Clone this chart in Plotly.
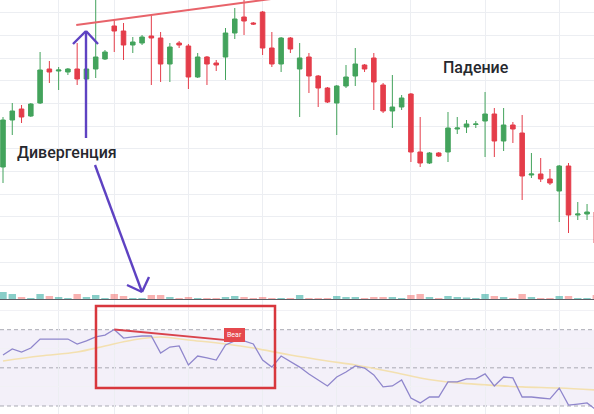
import plotly.graph_objects as go

W, H = 594, 414

# ---- price candles (index, open, high, low, close) ----
idx = list(range(65))
open_ = [133, 180, 191, 184, 197, 231, 229, 228, 231, 221,
         231, 241, 274, 269, 255, 257, 264, 262, 236, 257,
         254, 223, 243, 237, 243, 267, 283, 277, 288, 252,
         236, 262, 231, 243, 224, 212, 197, 214, 224, 235,
         242, 215, 189, 193, 206, 148, 137, 147, 148, 171,
         173, 175.5, 179, 186, 159, 175, 167, 125, 126, 121,
         109, 134, 85, 86, 88]
high = [183, 197, 195, 197, 248, 239, 233, 232, 257, 233,
        305, 250, 280, 277, 263, 265, 285, 268, 257, 259,
        256, 247, 244, 240, 272, 292, 302, 278, 289, 268,
        263, 263, 257, 247, 225, 213, 215, 235, 252, 236,
        247, 217, 225, 205, 207, 183, 148, 148, 188, 183,
        180, 179, 208, 192, 192, 178, 185, 147, 142, 131,
        135, 137, 98, 96, 89]
low = [117, 165, 177, 183, 196, 217, 210, 225, 215, 219,
       222, 240, 248, 240, 247, 255, 215, 218, 218, 252,
       211, 222, 215, 229, 220, 261, 265, 275, 245, 233,
       228, 247, 183, 207, 193, 197, 165, 212, 214, 228,
       190, 187, 172, 190, 138, 133, 136, 143, 138, 166,
       167, 172, 143, 143, 149, 157, 100, 122, 118, 115,
       78, 67, 80, 80, 50]
close = [180, 189, 183, 196, 230, 228, 230, 231, 221, 231,
         243, 248, 269, 255, 258, 263, 262, 236, 253, 255,
         223, 243, 236, 235, 267, 281, 279, 276, 252, 236,
         262, 251, 242, 224, 212, 198, 214, 223, 236, 231,
         218, 189, 193, 202, 148, 137, 147, 144, 172, 172,
         176, 176, 186, 159, 175, 171, 124, 126, 121, 117,
         134, 85, 86, 88, 57]

# ---- volume ----
volume = [70, 50, 20, 10, 50, 30, 20, 10, 50, 20,
          40, 10, 50, 30, 10, 10, 40, 40, 20, 10,
          20, 10, 10, 10, 20, 30, 20, 10, 20, 10,
          10, 10, 40, 10, 10, 10, 30, 20, 20, 10,
          20, 20, 20, 10, 40, 50, 20, 10, 30, 20,
          15, 10, 50, 30, 20, 10, 50, 20, 10, 10,
          30, 30, 10, 10, 40]

# ---- RSI and its moving average ----
rsi = [56.7, 59.9, 58.3, 60.4, 65.1, 65.1, 65.1, 65.1, 62.5, 64.1,
       66.2, 67.2, 70.1, 65.6, 66.2, 66.7, 66.7, 57.8, 60.9, 61.5,
       51.5, 56.2, 55.2, 54.1, 62.0, 64.1, 64.1, 62.5, 54.1, 50.4,
       56.2, 53.1, 50.4, 46.8, 43.6, 40.5, 45.2, 47.8, 51.0, 49.9,
       46.3, 40.0, 40.5, 43.6, 34.2, 31.6, 34.7, 34.7, 42.6, 42.6,
       44.2, 44.2, 46.8, 40.5, 45.2, 44.7, 34.7, 34.7, 34.2, 33.7,
       39.4, 30.5, 31.0, 31.6, 27.9]
ma_idx = [0, 4, 8, 11, 14, 17, 20, 24, 27, 31, 35, 38, 42, 45, 49, 52, 56, 60, 64]
rsi_ma = [53.6, 56.2, 58.3, 61.5, 64.6, 66.2, 64.6, 62.5, 60.4, 56.7,
          53.6, 51.5, 47.8, 44.7, 42.1, 41.1, 40.0, 39.4, 38.4]

UP, DOWN = "#43a35c", "#e43d4a"
VOL_UP, VOL_DOWN = "rgba(38,166,154,0.55)", "rgba(239,83,80,0.45)"
vol_colors = [VOL_UP if c >= o else VOL_DOWN for o, c in zip(open_, close)]

fig = go.Figure()

fig.add_trace(go.Bar(
    x=idx, y=volume, marker_color=vol_colors, marker_line_width=0,
    width=0.8, xaxis="x", yaxis="y2", hoverinfo="skip", showlegend=False))

fig.add_trace(go.Candlestick(
    x=idx, open=open_, high=high, low=low, close=close,
    increasing=dict(line=dict(color=UP, width=1), fillcolor=UP),
    decreasing=dict(line=dict(color=DOWN, width=1), fillcolor=DOWN),
    whiskerwidth=0, xaxis="x", yaxis="y", showlegend=False))

fig.add_trace(go.Scatter(
    x=ma_idx, y=rsi_ma, mode="lines", line=dict(color="#f3e0b0", width=1.6, shape="spline"),
    xaxis="x2", yaxis="y3", showlegend=False, hoverinfo="skip"))
fig.add_trace(go.Scatter(
    x=idx, y=rsi, mode="lines", line=dict(color="#8f86cc", width=1.3),
    xaxis="x2", yaxis="y3", showlegend=False))

x_range = [-0.324, 63.75]
grid_x = [6, 12, 20, 28, 36, 44, 52, 60]
price_bottom = 1 - 299 / H
rsi_top = 114 / H

fig.update_layout(
    width=W, height=H, margin=dict(l=0, r=0, t=0, b=0),
    paper_bgcolor="white", plot_bgcolor="white",
    xaxis=dict(domain=[0, 1], range=x_range, anchor="y", tickvals=grid_x,
               showticklabels=False, ticks="", showgrid=True, gridcolor="#eceef2",
               gridwidth=1, zeroline=False, showline=True, linecolor="#5c5f66",
               linewidth=1, rangeslider=dict(visible=False)),
    yaxis=dict(domain=[price_bottom, 1], range=[1, 300], tick0=15, dtick=22.7,
               showticklabels=False, ticks="", showgrid=True, gridcolor="#eceef2",
               zeroline=False),
    yaxis2=dict(domain=[price_bottom, 1], range=[0, 2990], overlaying="y",
                visible=False),
    xaxis2=dict(domain=[0, 1], range=x_range, anchor="y3", tickvals=grid_x,
                showticklabels=False, ticks="", showgrid=True, gridcolor="#eceef2",
                zeroline=False),
    yaxis3=dict(domain=[0, rsi_top], range=[25.8, 85.57], tickvals=[40, 60, 80],
                showticklabels=False, ticks="", showgrid=True, gridcolor="#f1f1f5",
                zeroline=False),
)

shapes = []
# RSI band and levels
shapes.append(dict(type="rect", xref="x2 domain", yref="y3", x0=0, x1=1, y0=30, y1=70,
                   fillcolor="rgba(126,87,194,0.09)", line=dict(width=0), layer="below"))
for lvl in (70, 50, 30):
    shapes.append(dict(type="line", xref="x2 domain", yref="y3", x0=0, x1=1, y0=lvl, y1=lvl,
                       line=dict(color="#a9a9b3", width=1, dash="4px,3px"), layer="below"))

# trend line over the price highs
shapes.append(dict(type="line", xref="x", yref="y", x0=7.9, y0=275, x1=31, y1=303.6,
                   line=dict(color="#e8636a", width=2)))

# divergence line on RSI peaks
shapes.append(dict(type="line", xref="x2", yref="y3", x0=12, y0=rsi[12], x1=25, y1=rsi[25],
                   line=dict(color="#d9434c", width=1.8)))

# highlight box around the RSI divergence
shapes.append(dict(type="rect", xref="x2", yref="y3", x0=10.03, x1=29.34, y0=39.4, y1=82.4,
                   line=dict(color="#d8373d", width=2.5), fillcolor="rgba(0,0,0,0)"))


def P(x, y):
    return x / W, 1 - y / H


def seg(p0, p1, color="#5e42c2", width=2.4):
    (x0, y0), (x1, y1) = P(*p0), P(*p1)
    return dict(type="line", xref="paper", yref="paper", x0=x0, y0=y0, x1=x1, y1=y1,
                line=dict(color=color, width=width))


# arrow up to the price high
shapes.append(seg((86, 138), (86, 31)))
shapes.append(seg((73, 44), (86, 31)))
shapes.append(seg((86, 31), (98, 44)))
# arrow down to the indicator
shapes.append(seg((95, 165), (142, 292)))
shapes.append(seg((127, 285), (142, 292)))
shapes.append(seg((142, 292), (149, 277)))

fig.update_layout(shapes=shapes)

ann_font = dict(family="Roboto, Noto Sans, sans-serif", size=16, color="#26282e", weight=500)
fig.add_annotation(x=67 / W, y=1 - 152 / H, xref="paper", yref="paper", text="Дивергенция",
                   showarrow=False, font=ann_font, xanchor="center", yanchor="middle")
fig.add_annotation(x=476 / W, y=1 - 67 / H, xref="paper", yref="paper", text="Падение",
                   showarrow=False, font=ann_font, xanchor="center", yanchor="middle")

# "Bear" tag on the second RSI peak
fig.add_annotation(x=25, y=rsi[25], xref="x2", yref="y3", text="Bear",
                   showarrow=True, arrowhead=0, arrowwidth=3, arrowcolor="#e5484d",
                   ax=0, ay=-6, standoff=0, bgcolor="#e5484d", bordercolor="#e5484d",
                   borderpad=2, font=dict(family="Roboto, sans-serif", size=7, color="white"))

fig.write_html("out.html")
